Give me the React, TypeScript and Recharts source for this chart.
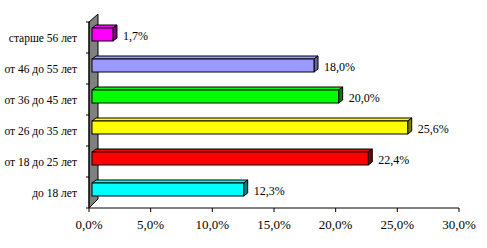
import React from 'react';
import { BarChart, Bar, XAxis, YAxis, Cell, LabelList, ReferenceArea } from 'recharts';

const categories = ['до 18 лет', 'от 18 до 25 лет', 'от 26 до 35 лет', 'от 36 до 45 лет', 'от 46 до 55 лет', 'старше 56 лет'];
const shares = [12.3, 22.4, 25.6, 20.0, 18.0, 1.7];
const frontColors = ['#00FFFF', '#FF0000', '#FFFF00', '#00FF00', '#9999FF', '#FF00FF'];
const sideColors = ['#008080', '#800000', '#808000', '#008000', '#666699', '#800080'];
const xTicks = [0, 5, 10, 15, 20, 25, 30];

const data = categories.map((c, i) => ({ name: c, value: shares[i] }));

const FONT = 'Liberation Serif, Times New Roman, serif';
const DX = 3;
const DY = -3;
const DEPTH_X = 4;
const DEPTH_Y = -3;

const fmt = (v: number) => v.toFixed(1).replace('.', ',') + '%';

const Box3D = (props: any) => {
  const { x, y, width, height, index } = props;
  const fx = x + DX;
  const fy = y + DY;
  const w = width;
  const h = height;
  const front = frontColors[index];
  const side = sideColors[index];
  return (
    <g>
      <polygon
        points={`${fx},${fy} ${fx + DEPTH_X},${fy + DEPTH_Y} ${fx + w + DEPTH_X},${fy + DEPTH_Y} ${fx + w},${fy}`}
        fill={front}
        stroke="#000"
        strokeWidth={1}
        strokeLinejoin="round"
      />
      <polygon
        points={`${fx + w},${fy} ${fx + w + DEPTH_X},${fy + DEPTH_Y} ${fx + w + DEPTH_X},${fy + DEPTH_Y + h} ${fx + w},${fy + h}`}
        fill={side}
        stroke="#000"
        strokeWidth={1}
        strokeLinejoin="round"
      />
      <rect x={fx} y={fy} width={w} height={h} fill={front} stroke="#000" strokeWidth={1} />
    </g>
  );
};

const Wall = (props: any) => {
  const { x, y, height } = props;
  const h = height;
  const n = categories.length;
  const ticks = [];
  for (let k = 0; k <= n; k++) {
    const ty = y + (k * h) / n;
    ticks.push(<line key={k} x1={x - 3} y1={ty} x2={x} y2={ty} stroke="#000" strokeWidth={1} />);
  }
  return (
    <g>
      <polygon
        points={`${x},${y} ${x + 9},${y - 8} ${x + 9},${y + h - 9} ${x},${y + h}`}
        fill="#808080"
        stroke="#000"
        strokeWidth={1}
      />
      {ticks}
    </g>
  );
};

const ValueLabel = (props: any) => {
  const { x, y, width, height, value } = props;
  return (
    <text
      x={x + width + DX + 10}
      y={y + DY + height / 2 + 1}
      style={{ fontFamily: FONT, fontSize: 12 }}
      fill="#000"
      dominantBaseline="central"
    >
      {fmt(Number(value))}
    </text>
  );
};

const CatTick = (props: any) => {
  const { x, y, payload } = props;
  return (
    <text x={x} y={y} textAnchor="end" dominantBaseline="central" style={{ fontFamily: FONT, fontSize: 11.5 }} fill="#000">
      {payload.value}
    </text>
  );
};

const XTick = (props: any) => {
  const { x, y, payload } = props;
  return (
    <text x={x} y={y} textAnchor="middle" dy="0.71em" style={{ fontFamily: FONT, fontSize: 13 }} fill="#000">
      {fmt(Number(payload.value))}
    </text>
  );
};

export default function App() {
  return (
    <div style={{ position: 'absolute', left: 0, top: 0, background: '#fff' }}>
      <BarChart
        width={487}
        height={248}
        data={data}
        layout="vertical"
        margin={{ top: 22, right: 28, bottom: 10, left: 0 }}
        barCategoryGap={0}
      >
        <XAxis
          type="number"
          dataKey="value"
          domain={[0, 30]}
          ticks={xTicks}
          interval={0}
          tick={<XTick />}
          tickSize={4}
          tickMargin={8}
          stroke="#000"
          axisLine={{ stroke: '#000' }}
          tickLine={{ stroke: '#000' }}
          height={30}
        />
        <YAxis
          type="category"
          dataKey="name"
          reversed
          interval={0}
          tick={<CatTick />}
          tickLine={false}
          tickMargin={6}
          axisLine={{ stroke: '#000' }}
          width={89}
        />
        <ReferenceArea
          x1={0}
          x2={0.001}
          y1={categories[categories.length - 1]}
          y2={categories[0]}
          shape={<Wall />}
          ifOverflow="visible"
        />
        <Bar dataKey="value" barSize={13} shape={<Box3D />} isAnimationActive={false}>
          {data.map((d, i) => (
            <Cell key={d.name} fill={frontColors[i]} />
          ))}
          <LabelList dataKey="value" content={<ValueLabel />} />
        </Bar>
      </BarChart>
    </div>
  );
}
